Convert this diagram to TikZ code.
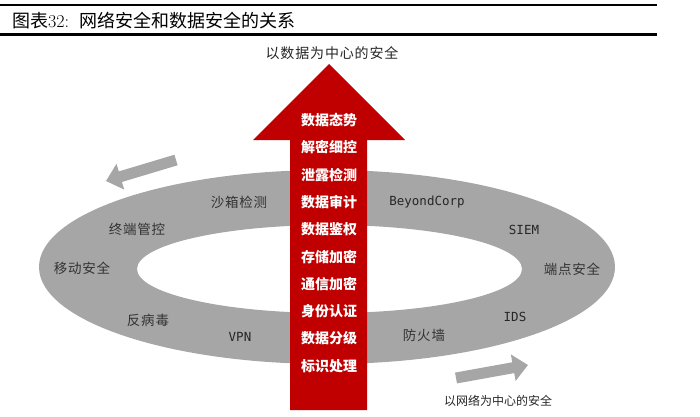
\documentclass[tikz,border=0pt]{standalone}
\usepackage{fontspec}
\usepackage{xcolor}
\usetikzlibrary{arrows.meta,positioning}
\newfontfamily\cjk{Noto Sans CJK SC}
\newfontfamily\cjkwide[LetterSpace=6]{Noto Sans CJK SC}
\newfontfamily\techfont{DejaVu Sans Mono}
\definecolor{secred}{RGB}{192,0,0}
\definecolor{ringgray}{RGB}{166,166,166}

\begin{document}
\begin{tikzpicture}[
  x=1pt, y=-1pt,
  node distance=27.33pt,
  item/.style={font=\cjkwide\fontsize{13.5}{14}\selectfont, text=black!80, inner sep=0pt},
  tech/.style={font=\techfont\fontsize{12.5}{13}\selectfont, text=black!85, inner sep=0pt},
  layer/.style={font=\cjk\bfseries\fontsize{14}{15}\selectfont, text=white, inner sep=0pt},
  topic/.style={font=\cjkwide\fontsize{14}{15}\selectfont, text=black!85, inner sep=0pt},
  flow/.style={ringgray, line width=11pt, -{Triangle[length=15pt, width=26pt]}}
]
  \useasboundingbox (0,0) rectangle (700,416);

  \draw[line width=2pt] (0,5) -- (657,5);
  \draw[line width=3pt] (0,34) -- (657,34);
  \node[anchor=west, inner sep=0pt, font=\fontsize{18}{20}\selectfont] (title) at (12,21)
    {{\cjk 图表}32:\hspace{10pt}{\cjk 网络安全和数据安全的关系}};

  \fill[ringgray, even odd rule] (327,267) ellipse [x radius=288pt, y radius=97pt]
    (329.5,269) ellipse [x radius=192.5pt, y radius=44pt];

  \node[item] (sandbox) at (239,202) {沙箱检测};
  \node[item] (terminal) at (137,229) {终端管控};
  \node[item] (mobile) at (82,268) {移动安全};
  \node[item] (antivirus) at (148,320) {反病毒};
  \node[tech] (vpn) at (240,337) {VPN};
  \node[tech] (beyond) at (427,202) {BeyondCorp};
  \node[tech] (siem) at (524,230) {SIEM};
  \node[item] (endpoint) at (572,269) {端点安全};
  \node[tech] (ids) at (515,317) {IDS};
  \node[item] (firewall) at (424,335) {防火墙};

  \fill[secred] (290,410) -- (290,140) -- (253,140) -- (329,64) -- (405,140)
    -- (367,140) -- (367,410) -- cycle;

  \node[topic] (datacentric) at (332,53) {以数据为中心的安全};
  \node[topic, font=\cjk\fontsize{12}{13}\selectfont] (netcentric) at (498,401) {以网络为中心的安全};

  \node[layer] (l1) at (329,120) {数据态势};
  \node[layer, below of=l1] (l2) {解密细控};
  \node[layer, below of=l2] (l3) {泄露检测};
  \node[layer, below of=l3] (l4) {数据审计};
  \node[layer, below of=l4] (l5) {数据鉴权};
  \node[layer, below of=l5] (l6) {存储加密};
  \node[layer, below of=l6] (l7) {通信加密};
  \node[layer, below of=l7] (l8) {身份认证};
  \node[layer, below of=l8] (l9) {数据分级};
  \node[layer, below of=l9] (l10) {标识处理};

  \coordinate (backtail) at (176,160);
  \coordinate (backtip) at (106,181);
  \coordinate (fwdtail) at (456,378);
  \coordinate (fwdtip) at (528,365);
  \draw[flow] (backtail) -- (backtip);
  \draw[flow] (fwdtail) -- (fwdtip);
\end{tikzpicture}
\end{document}
